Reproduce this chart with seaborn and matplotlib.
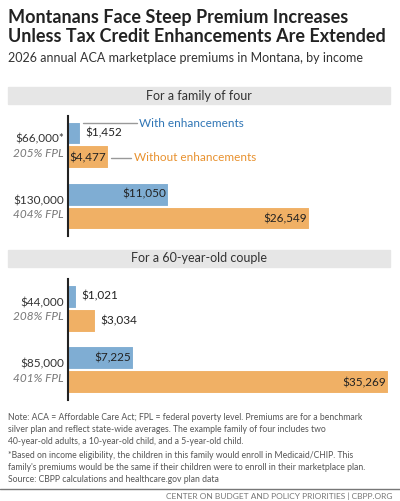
import pandas as pd
import matplotlib.pyplot as plt
import seaborn as sns

sns.set_style('white')
plt.rcParams['font.family'] = ['Lato', 'DejaVu Sans']

# data
groups = ['For a family of four', 'For a 60-year-old couple']
incomes = [['$66,000*', '$130,000'], ['$44,000', '$85,000']]
fpl = [['205% FPL', '404% FPL'], ['208% FPL', '401% FPL']]
with_enh = [[1452, 11050], [1021, 7225]]
without_enh = [[4477, 26549], [3034, 35269]]
series = ['With enhancements', 'Without enhancements']

BLUE = '#7fadd3'
ORANGE = '#f0b065'
BLUE_T = '#2f75b5'
ORANGE_T = '#e8912e'

W, H = 400, 501
fig = plt.figure(figsize=(4, 5.01), dpi=100)

def fy(px):
    return 1 - px / H

fig.text(8 / W, fy(17), 'Montanans Face Steep Premium Increases', fontsize=13,
         fontweight='bold', va='center', color='#222222')
fig.text(8 / W, fy(37), 'Unless Tax Credit Enhancements Are Extended', fontsize=13,
         fontweight='bold', va='center', color='#222222')
fig.text(8 / W, fy(58), '2026 annual ACA marketplace premiums in Montana, by income',
         fontsize=9, va='center', color='#333333')

bands = [(87, 104), (250, 267)]
axes_px = [(116, 236), (279, 400)]

for g in range(2):
    b0, b1 = bands[g]
    fig.patches.append(plt.Rectangle((8 / W, fy(b1)), 382 / W, (b1 - b0) / H,
                                     transform=fig.transFigure, color='#e6e6e6', zorder=0))
    fig.text(199 / W, fy((b0 + b1) / 2), groups[g], ha='center', va='center',
             fontsize=9, color='#333333')

    t, b = axes_px[g]
    ax = fig.add_axes([68 / W, fy(b), 323 / W, (b - t) / H])
    df = pd.DataFrame({
        'income': incomes[g] * 2,
        'series': [series[0]] * 2 + [series[1]] * 2,
        'value': with_enh[g] + without_enh[g],
    })
    sns.barplot(data=df, y='income', x='value', hue='series', orient='h',
                palette=[BLUE, ORANGE], saturation=1, width=0.78, edgecolor='white',
                linewidth=1.5, legend=False, ax=ax)
    ax.set_xlim(0, 35500)
    ax.set_ylim(1.48, -0.48)
    ax.set_xlabel('')
    ax.set_ylabel('')
    ax.set_xticks([])
    ax.set_yticks([])
    for s in ['top', 'right', 'bottom']:
        ax.spines[s].set_visible(False)
    ax.spines['left'].set_color('#222222')
    ax.spines['left'].set_linewidth(1.5)

    for i in range(2):
        ax.text(-0.012, i - 0.1, incomes[g][i], transform=ax.get_yaxis_transform(),
                ha='right', va='center', fontsize=8.5, color='#333333')
        ax.text(-0.012, i + 0.13, fpl[g][i], transform=ax.get_yaxis_transform(),
                ha='right', va='center', fontsize=8.5, color='#777777', style='italic')
        for j, v in enumerate([with_enh[g][i], without_enh[g][i]]):
            y = i + (-0.2 if j == 0 else 0.2)
            lab = f'${v:,}'
            if v > 4000:
                ax.text(v - 300, y, lab, ha='right', va='center', fontsize=8.5, color='#222222')
            else:
                ax.text(v + 500, y, lab, ha='left', va='center', fontsize=8.5, color='#222222')

    if g == 0:
        ax.plot([with_enh[0][0] + 200, 7600], [-0.36, -0.36], color='#999999', lw=1)
        ax.text(7800, -0.36, series[0], va='center', fontsize=8.5, color=BLUE_T)
        ax.plot([without_enh[0][0] + 200, 6900], [0.2, 0.2], color='#999999', lw=1)
        ax.text(7300, 0.2, series[1], va='center', fontsize=8.5, color=ORANGE_T)

notes = [
    (418, 'Note: ACA = Affordable Care Act; FPL = federal poverty level. Premiums are for a benchmark'),
    (430, 'silver plan and reflect state-wide averages. The example family of four includes two'),
    (442, '40-year-old adults, a 10-year-old child, and a 5-year-old child.'),
    (455, '*Based on income eligibility, the children in this family would enroll in Medicaid/CHIP. This'),
    (467, "family's premiums would be the same if their children were to enroll in their marketplace plan."),
    (480, 'Source: CBPP calculations and healthcare.gov plan data'),
]
for y, s in notes:
    fig.text(8 / W, fy(y), s, fontsize=6.2, va='center', color='#555555')

fig.add_artist(plt.Line2D([0, 1], [fy(489), fy(489)], color='#777777', lw=1))
fig.text(392 / W, fy(496), 'CENTER ON BUDGET AND POLICY PRIORITIES | CBPP.ORG',
         ha='right', va='center', fontsize=6, color='#777777')

fig.savefig('out.png', dpi=100, facecolor='white')
